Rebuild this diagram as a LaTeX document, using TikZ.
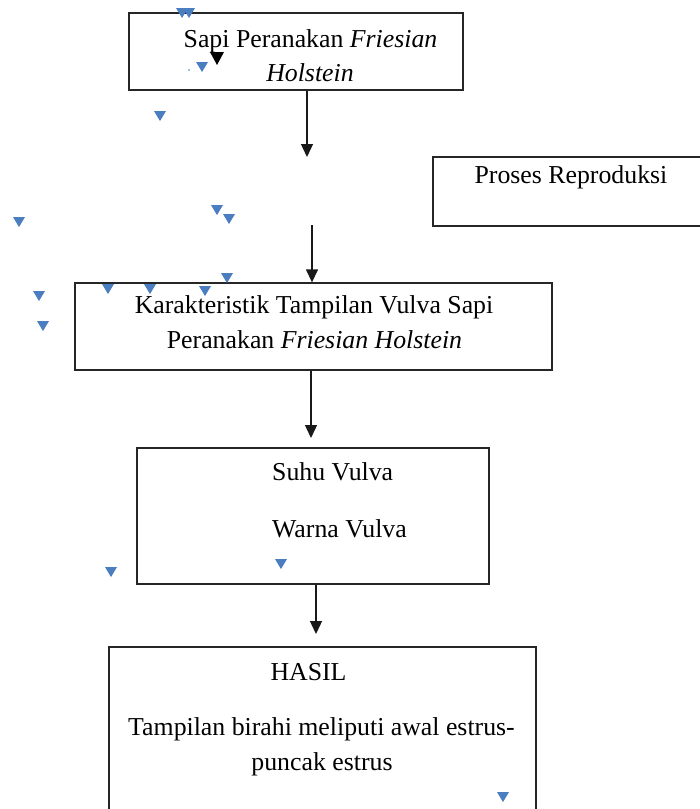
\documentclass[tikz,border=0pt]{standalone}
\usepackage{fontspec}
\setmainfont{Liberation Serif}
\usetikzlibrary{arrows.meta}
\definecolor{mkblue}{RGB}{74,126,193}
\newcommand\bluemark[2]{\fill[mkblue] (#1-6,#2-5) -- (#1+6,#2-5) -- (#1,#2+5) -- cycle;}
\begin{document}
\begin{tikzpicture}[x=1pt,y=-1pt,
  box/.style={draw=black!85,line width=1.3pt,inner sep=0pt},
  txt/.style={anchor=base,inner sep=0pt,font=\fontsize{25.8}{34}\selectfont},
  ltxt/.style={anchor=base west,inner sep=0pt,font=\fontsize{25.8}{34}\selectfont},
  arr/.style={draw=black!90,line width=1.3pt,-{Triangle[width=12pt,length=13pt]}}]
\path[use as bounding box,clip] (0,0) rectangle (700,809);
\fill[white] (0,0) rectangle (700,809);
% boxes
\node[box,minimum width=334pt,minimum height=77pt] (b1) at (296,51.5) {};
\node[box,minimum width=290pt,minimum height=69pt] (b2) at (578,191.5) {};
\node[box,minimum width=477pt,minimum height=87pt] (b3) at (313.5,326.5) {};
\node[box,minimum width=352pt,minimum height=136pt] (b4) at (313,516) {};
\node[box,minimum width=427pt,minimum height=200pt] (b5) at (322.5,747) {};
% texts
\node[txt] (t1a) at (310.5,47) {Sapi Peranakan \textit{Friesian}};
\node[txt] (t1b) at (310,81) {\textit{Holstein}};
\node[txt] (t2) at (571,183) {Proses Reproduksi};
\node[txt] (t3a) at (314,313) {Karakteristik Tampilan Vulva Sapi};
\node[txt] (t3b) at (314.5,348) {Peranakan \textit{Friesian Holstein}};
\node[ltxt] (t4a) at (272,480) {Suhu Vulva};
\node[ltxt] (t4b) at (272,537) {Warna Vulva};
\node[txt] (t5a) at (308.5,680) {HASIL};
\node[txt] (t5b) at (321.5,735) {Tampilan birahi meliputi awal estrus-};
\node[txt] (t5c) at (322,770) {puncak estrus};
% connectors
\coordinate (e1) at (307,157);
\coordinate (s2) at (312,225);
\coordinate (a3) at (311,0);
\coordinate (e3) at (311,438);
\coordinate (a4) at (316,0);
\coordinate (e4) at (316,634);
\draw[arr] (b1.south -| e1) -- (e1);
\draw[arr] (s2) -- (s2 |- b3.north);
\draw[arr] (b3.south -| a3) -- (e3);
\draw[arr] (b4.south -| a4) -- (e4);
% anchor marks
\bluemark{182}{13}
\bluemark{189}{13}
\bluemark{202}{67}
\fill[mkblue] (189,70) circle (0.8);
\fill[black] (210,52) -- (224,52) -- (217,65) -- cycle;
\bluemark{160}{116}
\bluemark{19}{222}
\bluemark{217}{210}
\bluemark{229}{219}
\bluemark{227}{278}
\bluemark{39}{296}
\bluemark{43}{326}
\bluemark{108}{289}
\bluemark{150}{289}
\bluemark{205}{291}
\bluemark{111}{572}
\bluemark{281}{564}
\bluemark{503}{797}
\end{tikzpicture}
\end{document}
